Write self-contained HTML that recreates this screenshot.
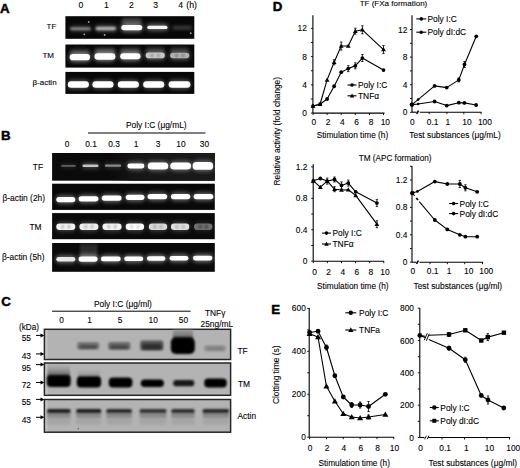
<!DOCTYPE html>
<html><head><meta charset="utf-8"><style>
html,body{margin:0;padding:0;background:#fff;}
svg{display:block;}
text{font-family:"Liberation Sans", sans-serif;fill:#000;stroke:#000;stroke-width:0.1px;}
</style></head><body>
<svg width="520" height="468" viewBox="0 0 520 468">
<defs>
<filter id="b07" x="-20%" y="-100%" width="140%" height="300%"><feGaussianBlur stdDeviation="0.7"/></filter>
<filter id="b1" x="-20%" y="-100%" width="140%" height="300%"><feGaussianBlur stdDeviation="1"/></filter>
<filter id="b12" x="-30%" y="-100%" width="160%" height="300%"><feGaussianBlur stdDeviation="1.2"/></filter>
<filter id="b15" x="-30%" y="-100%" width="160%" height="300%"><feGaussianBlur stdDeviation="1.5"/></filter>
<filter id="b2" x="-30%" y="-100%" width="160%" height="300%"><feGaussianBlur stdDeviation="2"/></filter>
<linearGradient id="hz1" x1="0" y1="0" x2="0" y2="1"><stop offset="0" stop-color="#a8a8a8" stop-opacity="0.3"/><stop offset="0.6" stop-color="#7a7a7a"/><stop offset="1" stop-color="#303030"/></linearGradient>
<linearGradient id="hz2" x1="0" y1="0" x2="0" y2="1"><stop offset="0" stop-color="#a8a8a8" stop-opacity="0.2"/><stop offset="0.7" stop-color="#8a8a8a"/><stop offset="1" stop-color="#404040"/></linearGradient>
<linearGradient id="hz3" x1="0" y1="0" x2="0" y2="1"><stop offset="0" stop-color="#a8a8a8" stop-opacity="0.1"/><stop offset="0.7" stop-color="#969696"/><stop offset="1" stop-color="#505050"/></linearGradient>
<linearGradient id="gtf" x1="0" y1="0" x2="1" y2="0"><stop offset="0" stop-color="#161616" stop-opacity="0"/><stop offset="0.25" stop-color="#161616"/><stop offset="1" stop-color="#1a1a1a"/></linearGradient>
<linearGradient id="gsm" x1="0" y1="0" x2="0" y2="1"><stop offset="0" stop-color="#222"/><stop offset="1" stop-color="#3a3a3a"/></linearGradient>
<linearGradient id="hz4" x1="0" y1="0" x2="0" y2="1"><stop offset="0" stop-color="#a0a0a0"/><stop offset="0.6" stop-color="#7a7a7a"/><stop offset="1" stop-color="#202020"/></linearGradient>
<clipPath id="cTF"><rect x="44.7" y="329.5" width="185.2" height="29.3"/></clipPath>
<clipPath id="cTM"><rect x="44.7" y="363.5" width="185.2" height="31.2"/></clipPath>
<clipPath id="cAC"><rect x="44.7" y="400.1" width="185.2" height="31.6"/></clipPath>
</defs>
<rect width="520" height="468" fill="#fff"/>
<text x="0.00" y="13.10" font-size="13.3" text-anchor="start" font-weight="bold" style="stroke-width:0.45px">A</text>
<text x="81.00" y="8.30" font-size="8.6" text-anchor="middle" font-weight="normal" >0</text>
<text x="106.30" y="8.30" font-size="8.6" text-anchor="middle" font-weight="normal" >1</text>
<text x="131.40" y="8.30" font-size="8.6" text-anchor="middle" font-weight="normal" >2</text>
<text x="155.60" y="8.30" font-size="8.6" text-anchor="middle" font-weight="normal" >3</text>
<text x="180.60" y="8.30" font-size="8.6" text-anchor="middle" font-weight="normal" >4</text>
<text x="186.30" y="8.10" font-size="8.8" text-anchor="start" font-weight="normal" >(h)</text>
<text x="56.30" y="29.18" font-size="8" text-anchor="end" font-weight="normal" >TF</text>
<text x="54.00" y="58.48" font-size="8" text-anchor="end" font-weight="normal" >TM</text>
<text x="56.60" y="85.08" font-size="8" text-anchor="end" font-weight="normal" >β-actin</text>
<clipPath id="g1"><rect x="65.40" y="16.20" width="128.90" height="22.60"/></clipPath>
<rect x="65.40" y="16.20" width="128.90" height="22.60" fill="#070707" />
<g clip-path="url(#g1)">
<rect x="121.50" y="17.50" width="20.50" height="7.00" rx="3.50" fill="#3a3a3a" opacity="1.0" filter="url(#b15)"/>
<rect x="69.80" y="26.10" width="21.30" height="5.40" rx="2.70" fill="#8e8e8e" opacity="0.4" filter="url(#b2)"/>
<rect x="70.30" y="27.60" width="20.30" height="2.40" rx="1.20" fill="#8e8e8e" opacity="1.0" filter="url(#b1)"/>
<rect x="95.20" y="25.60" width="21.30" height="5.80" rx="2.90" fill="#b8b8b8" opacity="0.45" filter="url(#b2)"/>
<rect x="95.70" y="27.10" width="20.30" height="2.80" rx="1.40" fill="#b8b8b8" opacity="1.0" filter="url(#b1)"/>
<rect x="120.80" y="23.40" width="22.00" height="8.40" rx="4.20" fill="#ffffff" opacity="0.5" filter="url(#b2)"/>
<rect x="121.30" y="24.90" width="21.00" height="5.40" rx="2.70" fill="#ffffff" opacity="1.0" filter="url(#b07)"/>
<rect x="146.70" y="24.20" width="21.30" height="6.40" rx="3.20" fill="#f4f4f4" opacity="0.45" filter="url(#b2)"/>
<rect x="147.20" y="25.70" width="20.30" height="3.40" rx="1.70" fill="#f4f4f4" opacity="1.0" filter="url(#b07)"/>
<rect x="172.00" y="25.80" width="20.00" height="4.00" rx="2.00" fill="#383838" opacity="1.0" filter="url(#b15)"/>
<circle cx="88.70" cy="21.90" r="0.9" fill="#aaa"/>
<circle cx="84.30" cy="34.30" r="0.9" fill="#aaa"/>
<circle cx="104.60" cy="35.00" r="0.9" fill="#aaa"/>
<circle cx="190.70" cy="33.20" r="0.9" fill="#aaa"/>
</g>
<clipPath id="g2"><rect x="65.40" y="44.50" width="128.90" height="23.10"/></clipPath>
<rect x="65.40" y="44.50" width="128.90" height="23.10" fill="#080808" />
<g clip-path="url(#g2)">
<rect x="69.70" y="48.45" width="20.30" height="6.50" rx="3.25" fill="#2a2a2a" opacity="1.0" filter="url(#b15)"/>
<rect x="69.20" y="52.60" width="21.30" height="9.20" rx="4.60" fill="#fff" opacity="0.5" filter="url(#b2)"/>
<rect x="69.70" y="54.10" width="20.30" height="6.20" rx="3.10" fill="#fff" opacity="1.0" filter="url(#b07)"/>
<rect x="94.50" y="47.75" width="20.90" height="6.50" rx="3.25" fill="#3a3a3a" opacity="1.0" filter="url(#b15)"/>
<rect x="94.00" y="51.80" width="21.90" height="9.40" rx="4.70" fill="#fff" opacity="0.5" filter="url(#b2)"/>
<rect x="94.50" y="53.30" width="20.90" height="6.40" rx="3.20" fill="#fff" opacity="1.0" filter="url(#b07)"/>
<rect x="120.20" y="47.45" width="20.30" height="6.50" rx="3.25" fill="#333333" opacity="1.0" filter="url(#b15)"/>
<rect x="119.70" y="51.70" width="21.30" height="9.00" rx="4.50" fill="#fff" opacity="0.5" filter="url(#b2)"/>
<rect x="120.20" y="53.20" width="20.30" height="6.00" rx="3.00" fill="#fff" opacity="1.0" filter="url(#b07)"/>
<rect x="145.70" y="46.65" width="19.10" height="6.50" rx="3.25" fill="#282828" opacity="1.0" filter="url(#b15)"/>
<rect x="145.20" y="51.10" width="20.10" height="8.60" rx="4.30" fill="#c8c8c8" opacity="0.5" filter="url(#b2)"/>
<rect x="145.70" y="52.60" width="19.10" height="5.60" rx="2.80" fill="#c8c8c8" opacity="1.0" filter="url(#b07)"/>
<ellipse cx="152.07" cy="55.40" rx="1.72" ry="1.68" fill="#000" opacity="0.25" filter="url(#b1)"/>
<ellipse cx="158.43" cy="55.40" rx="1.72" ry="1.68" fill="#000" opacity="0.25" filter="url(#b1)"/>
<rect x="170.20" y="46.75" width="19.10" height="6.50" rx="3.25" fill="#262626" opacity="1.0" filter="url(#b15)"/>
<rect x="169.70" y="51.30" width="20.10" height="8.40" rx="4.20" fill="#b0b0b0" opacity="0.5" filter="url(#b2)"/>
<rect x="170.20" y="52.80" width="19.10" height="5.40" rx="2.70" fill="#b0b0b0" opacity="1.0" filter="url(#b07)"/>
<ellipse cx="176.57" cy="55.50" rx="1.72" ry="1.62" fill="#000" opacity="0.3" filter="url(#b1)"/>
<ellipse cx="182.93" cy="55.50" rx="1.72" ry="1.62" fill="#000" opacity="0.3" filter="url(#b1)"/>
</g>
<clipPath id="g3"><rect x="65.40" y="71.90" width="128.90" height="22.00"/></clipPath>
<rect x="65.40" y="71.90" width="128.90" height="22.00" fill="#070707" />
<g clip-path="url(#g3)">
<rect x="67.30" y="79.70" width="22.10" height="9.60" rx="4.80" fill="#fff" opacity="0.3" filter="url(#b2)"/>
<rect x="67.80" y="81.20" width="21.10" height="6.60" rx="3.30" fill="#fff" opacity="1.0" filter="url(#b07)"/>
<rect x="91.90" y="79.70" width="22.10" height="9.60" rx="4.80" fill="#fff" opacity="0.3" filter="url(#b2)"/>
<rect x="92.40" y="81.20" width="21.10" height="6.60" rx="3.30" fill="#fff" opacity="1.0" filter="url(#b07)"/>
<rect x="117.30" y="79.70" width="22.10" height="9.60" rx="4.80" fill="#fff" opacity="0.3" filter="url(#b2)"/>
<rect x="117.80" y="81.20" width="21.10" height="6.60" rx="3.30" fill="#fff" opacity="1.0" filter="url(#b07)"/>
<rect x="142.70" y="79.70" width="22.10" height="9.60" rx="4.80" fill="#fff" opacity="0.3" filter="url(#b2)"/>
<rect x="143.20" y="81.20" width="21.10" height="6.60" rx="3.30" fill="#fff" opacity="1.0" filter="url(#b07)"/>
<rect x="168.10" y="79.70" width="22.80" height="9.60" rx="4.80" fill="#fff" opacity="0.3" filter="url(#b2)"/>
<rect x="168.60" y="81.20" width="21.80" height="6.60" rx="3.30" fill="#fff" opacity="1.0" filter="url(#b07)"/>
</g>
<text x="1.00" y="139.70" font-size="13.3" text-anchor="start" font-weight="bold" style="stroke-width:0.45px">B</text>
<text x="156.30" y="128.32" font-size="8.4" text-anchor="middle" font-weight="normal" >Poly I:C (μg/mL)</text>
<line x1="88" y1="133" x2="205.5" y2="133" stroke="#000" stroke-width="1"/>
<text x="67.00" y="146.77" font-size="8.4" text-anchor="middle" font-weight="normal" >0</text>
<text x="91.00" y="146.77" font-size="8.4" text-anchor="middle" font-weight="normal" >0.1</text>
<text x="114.00" y="146.77" font-size="8.4" text-anchor="middle" font-weight="normal" >0.3</text>
<text x="136.00" y="146.77" font-size="8.4" text-anchor="middle" font-weight="normal" >1</text>
<text x="158.00" y="146.77" font-size="8.4" text-anchor="middle" font-weight="normal" >3</text>
<text x="181.00" y="146.77" font-size="8.4" text-anchor="middle" font-weight="normal" >10</text>
<text x="204.50" y="146.77" font-size="8.4" text-anchor="middle" font-weight="normal" >30</text>
<text x="43.00" y="169.52" font-size="8.4" text-anchor="end" font-weight="normal" >TF</text>
<text x="45.00" y="201.02" font-size="8.4" text-anchor="end" font-weight="normal" >β-actin (2h)</text>
<text x="41.50" y="230.02" font-size="8.4" text-anchor="end" font-weight="normal" >TM</text>
<text x="44.50" y="260.02" font-size="8.4" text-anchor="end" font-weight="normal" >β-actin (5h)</text>
<clipPath id="g4"><rect x="52.10" y="153.00" width="162.70" height="27.70"/></clipPath>
<rect x="52.10" y="153.00" width="162.70" height="27.70" fill="#0a0a0a" />
<g clip-path="url(#g4)">
<rect x="110" y="153" width="105" height="28" fill="url(#gtf)"/>
<rect x="60.80" y="163.40" width="15.50" height="4.80" rx="2.40" fill="#606060" opacity="0.3" filter="url(#b2)"/>
<rect x="61.30" y="164.90" width="14.50" height="1.80" rx="0.90" fill="#606060" opacity="1.0" filter="url(#b07)"/>
<rect x="82.00" y="162.90" width="17.00" height="5.60" rx="2.80" fill="#c4c4c4" opacity="0.35" filter="url(#b2)"/>
<rect x="82.50" y="164.40" width="16.00" height="2.60" rx="1.30" fill="#c4c4c4" opacity="1.0" filter="url(#b07)"/>
<rect x="104.40" y="163.10" width="17.20" height="5.20" rx="2.60" fill="#8a8a8a" opacity="0.3" filter="url(#b2)"/>
<rect x="104.90" y="164.60" width="16.20" height="2.20" rx="1.10" fill="#8a8a8a" opacity="1.0" filter="url(#b07)"/>
<rect x="126.90" y="162.10" width="18.00" height="7.80" rx="3.90" fill="#fff" opacity="0.35" filter="url(#b2)"/>
<rect x="127.40" y="163.60" width="17.00" height="4.80" rx="2.40" fill="#fff" opacity="1.0" filter="url(#b07)"/>
<rect x="147.20" y="161.00" width="21.60" height="10.00" rx="5.00" fill="#fff" opacity="0.35" filter="url(#b2)"/>
<rect x="147.70" y="162.50" width="20.60" height="7.00" rx="3.50" fill="#fff" opacity="1.0" filter="url(#b07)"/>
<rect x="169.70" y="161.00" width="21.80" height="10.00" rx="5.00" fill="#fff" opacity="0.35" filter="url(#b2)"/>
<rect x="170.20" y="162.50" width="20.80" height="7.00" rx="3.50" fill="#fff" opacity="1.0" filter="url(#b07)"/>
<rect x="192.10" y="160.50" width="21.60" height="10.80" rx="5.40" fill="#fff" opacity="0.35" filter="url(#b2)"/>
<rect x="192.60" y="162.00" width="20.60" height="7.80" rx="3.90" fill="#fff" opacity="1.0" filter="url(#b07)"/>
</g>
<clipPath id="g5"><rect x="52.10" y="183.70" width="162.70" height="26.20"/></clipPath>
<rect x="52.10" y="183.70" width="162.70" height="26.20" fill="#080808" />
<g clip-path="url(#g5)">
<rect x="55.80" y="195.40" width="20.00" height="8.40" rx="4.20" fill="#fff" opacity="0.4" filter="url(#b2)"/>
<rect x="56.30" y="196.90" width="19.00" height="5.40" rx="2.70" fill="#fff" opacity="1.0" filter="url(#b07)"/>
<rect x="78.10" y="194.65" width="20.80" height="8.40" rx="4.20" fill="#fff" opacity="0.4" filter="url(#b2)"/>
<rect x="78.60" y="196.15" width="19.80" height="5.40" rx="2.70" fill="#fff" opacity="1.0" filter="url(#b07)"/>
<rect x="101.20" y="193.90" width="20.90" height="8.40" rx="4.20" fill="#fff" opacity="0.4" filter="url(#b2)"/>
<rect x="101.70" y="195.40" width="19.90" height="5.40" rx="2.70" fill="#fff" opacity="1.0" filter="url(#b07)"/>
<rect x="125.20" y="193.15" width="19.80" height="8.40" rx="4.20" fill="#fff" opacity="0.4" filter="url(#b2)"/>
<rect x="125.70" y="194.65" width="18.80" height="5.40" rx="2.70" fill="#fff" opacity="1.0" filter="url(#b07)"/>
<rect x="147.00" y="192.40" width="20.70" height="8.40" rx="4.20" fill="#fff" opacity="0.4" filter="url(#b2)"/>
<rect x="147.50" y="193.90" width="19.70" height="5.40" rx="2.70" fill="#fff" opacity="1.0" filter="url(#b07)"/>
<rect x="170.40" y="192.40" width="20.40" height="8.40" rx="4.20" fill="#fff" opacity="0.4" filter="url(#b2)"/>
<rect x="170.90" y="193.90" width="19.40" height="5.40" rx="2.70" fill="#fff" opacity="1.0" filter="url(#b07)"/>
<rect x="193.10" y="192.40" width="20.70" height="8.40" rx="4.20" fill="#fff" opacity="0.4" filter="url(#b2)"/>
<rect x="193.60" y="193.90" width="19.70" height="5.40" rx="2.70" fill="#fff" opacity="1.0" filter="url(#b07)"/>
</g>
<clipPath id="g6"><rect x="52.10" y="213.10" width="162.70" height="26.10"/></clipPath>
<rect x="52.10" y="213.10" width="162.70" height="26.10" fill="#0a0a0a" />
<g clip-path="url(#g6)">
<rect x="55.80" y="222.00" width="20.00" height="9.60" rx="4.80" fill="#f4f4f4" opacity="0.25" filter="url(#b2)"/>
<rect x="56.30" y="223.50" width="19.00" height="6.60" rx="3.30" fill="#f4f4f4" opacity="1.0" filter="url(#b07)"/>
<ellipse cx="62.63" cy="226.80" rx="1.71" ry="1.98" fill="#000" opacity="0.22" filter="url(#b1)"/>
<ellipse cx="68.97" cy="226.80" rx="1.71" ry="1.98" fill="#000" opacity="0.22" filter="url(#b1)"/>
<rect x="78.90" y="222.00" width="20.00" height="9.60" rx="4.80" fill="#f0f0f0" opacity="0.25" filter="url(#b2)"/>
<rect x="79.40" y="223.50" width="19.00" height="6.60" rx="3.30" fill="#f0f0f0" opacity="1.0" filter="url(#b07)"/>
<ellipse cx="85.73" cy="226.80" rx="1.71" ry="1.98" fill="#000" opacity="0.22" filter="url(#b1)"/>
<ellipse cx="92.07" cy="226.80" rx="1.71" ry="1.98" fill="#000" opacity="0.22" filter="url(#b1)"/>
<rect x="102.00" y="222.00" width="20.10" height="9.60" rx="4.80" fill="#f4f4f4" opacity="0.25" filter="url(#b2)"/>
<rect x="102.50" y="223.50" width="19.10" height="6.60" rx="3.30" fill="#f4f4f4" opacity="1.0" filter="url(#b07)"/>
<ellipse cx="108.87" cy="226.80" rx="1.72" ry="1.98" fill="#000" opacity="0.22" filter="url(#b1)"/>
<ellipse cx="115.23" cy="226.80" rx="1.72" ry="1.98" fill="#000" opacity="0.22" filter="url(#b1)"/>
<rect x="125.20" y="222.00" width="19.40" height="9.60" rx="4.80" fill="#fff" opacity="0.25" filter="url(#b2)"/>
<rect x="125.70" y="223.50" width="18.40" height="6.60" rx="3.30" fill="#fff" opacity="1.0" filter="url(#b07)"/>
<ellipse cx="131.83" cy="226.80" rx="1.66" ry="1.98" fill="#000" opacity="0.18" filter="url(#b1)"/>
<ellipse cx="137.97" cy="226.80" rx="1.66" ry="1.98" fill="#000" opacity="0.18" filter="url(#b1)"/>
<rect x="148.30" y="222.00" width="19.40" height="9.60" rx="4.80" fill="#d8d8d8" opacity="0.25" filter="url(#b2)"/>
<rect x="148.80" y="223.50" width="18.40" height="6.60" rx="3.30" fill="#d8d8d8" opacity="1.0" filter="url(#b07)"/>
<ellipse cx="154.93" cy="226.80" rx="1.66" ry="1.98" fill="#000" opacity="0.2" filter="url(#b1)"/>
<ellipse cx="161.07" cy="226.80" rx="1.66" ry="1.98" fill="#000" opacity="0.2" filter="url(#b1)"/>
<rect x="170.40" y="222.00" width="19.40" height="9.60" rx="4.80" fill="#e0e0e0" opacity="0.25" filter="url(#b2)"/>
<rect x="170.90" y="223.50" width="18.40" height="6.60" rx="3.30" fill="#e0e0e0" opacity="1.0" filter="url(#b07)"/>
<ellipse cx="177.03" cy="226.80" rx="1.66" ry="1.98" fill="#000" opacity="0.2" filter="url(#b1)"/>
<ellipse cx="183.17" cy="226.80" rx="1.66" ry="1.98" fill="#000" opacity="0.2" filter="url(#b1)"/>
<rect x="193.50" y="222.00" width="19.40" height="9.60" rx="4.80" fill="#707070" opacity="0.25" filter="url(#b2)"/>
<rect x="194.00" y="223.50" width="18.40" height="6.60" rx="3.30" fill="#707070" opacity="1.0" filter="url(#b07)"/>
<ellipse cx="200.13" cy="226.80" rx="1.66" ry="1.98" fill="#000" opacity="0.4" filter="url(#b1)"/>
<ellipse cx="206.27" cy="226.80" rx="1.66" ry="1.98" fill="#000" opacity="0.4" filter="url(#b1)"/>
</g>
<clipPath id="g7"><rect x="52.10" y="243.00" width="162.70" height="28.80"/></clipPath>
<rect x="52.10" y="243.00" width="162.70" height="28.80" fill="#0a0a0a" />
<g clip-path="url(#g7)">
<rect x="80" y="243" width="17.5" height="15" fill="url(#gsm)" filter="url(#b1)"/>
<rect x="55.80" y="255.50" width="20.00" height="7.60" rx="3.80" fill="#e8e8e8" opacity="0.45" filter="url(#b2)"/>
<rect x="56.30" y="257.00" width="19.00" height="4.60" rx="2.30" fill="#e8e8e8" opacity="1.0" filter="url(#b07)"/>
<rect x="78.10" y="254.90" width="20.00" height="8.40" rx="4.20" fill="#fff" opacity="0.45" filter="url(#b2)"/>
<rect x="78.60" y="256.40" width="19.00" height="5.40" rx="2.70" fill="#fff" opacity="1.0" filter="url(#b07)"/>
<rect x="100.40" y="255.10" width="20.80" height="7.60" rx="3.80" fill="#fff" opacity="0.45" filter="url(#b2)"/>
<rect x="100.90" y="256.60" width="19.80" height="4.60" rx="2.30" fill="#fff" opacity="1.0" filter="url(#b07)"/>
<rect x="123.70" y="254.90" width="20.00" height="7.60" rx="3.80" fill="#fff" opacity="0.45" filter="url(#b2)"/>
<rect x="124.20" y="256.40" width="19.00" height="4.60" rx="2.30" fill="#fff" opacity="1.0" filter="url(#b07)"/>
<rect x="146.40" y="254.70" width="19.50" height="7.60" rx="3.80" fill="#fff" opacity="0.45" filter="url(#b2)"/>
<rect x="146.90" y="256.20" width="18.50" height="4.60" rx="2.30" fill="#fff" opacity="1.0" filter="url(#b07)"/>
<rect x="169.10" y="254.50" width="19.80" height="7.60" rx="3.80" fill="#fff" opacity="0.45" filter="url(#b2)"/>
<rect x="169.60" y="256.00" width="18.80" height="4.60" rx="2.30" fill="#fff" opacity="1.0" filter="url(#b07)"/>
<rect x="192.50" y="254.30" width="20.40" height="7.60" rx="3.80" fill="#fff" opacity="0.45" filter="url(#b2)"/>
<rect x="193.00" y="255.80" width="19.40" height="4.60" rx="2.30" fill="#fff" opacity="1.0" filter="url(#b07)"/>
</g>
<text x="1.30" y="305.90" font-size="13.3" text-anchor="start" font-weight="bold" style="stroke-width:0.45px">C</text>
<text x="94.00" y="306.52" font-size="8.4" text-anchor="start" font-weight="normal" >Poly I:C (μg/ml)</text>
<line x1="52" y1="311.2" x2="190.6" y2="311.2" stroke="#000" stroke-width="1"/>
<text x="61.50" y="323.02" font-size="8.4" text-anchor="middle" font-weight="normal" >0</text>
<text x="89.50" y="323.02" font-size="8.4" text-anchor="middle" font-weight="normal" >1</text>
<text x="120.00" y="323.02" font-size="8.4" text-anchor="middle" font-weight="normal" >5</text>
<text x="153.20" y="323.02" font-size="8.4" text-anchor="middle" font-weight="normal" >10</text>
<text x="183.50" y="323.02" font-size="8.4" text-anchor="middle" font-weight="normal" >50</text>
<text x="215.20" y="315.52" font-size="8.4" text-anchor="middle" font-weight="normal" >TNFγ</text>
<text x="216.80" y="327.32" font-size="8.4" text-anchor="middle" font-weight="normal" >25ng/mL</text>
<text x="29.00" y="329.55" font-size="8.2" text-anchor="middle" font-weight="normal" >(kDa)</text>
<text x="31.00" y="341.32" font-size="8.4" text-anchor="end" font-weight="normal" >55</text>
<text x="31.00" y="359.02" font-size="8.4" text-anchor="end" font-weight="normal" >43</text>
<text x="31.00" y="370.92" font-size="8.4" text-anchor="end" font-weight="normal" >95</text>
<text x="31.00" y="388.22" font-size="8.4" text-anchor="end" font-weight="normal" >72</text>
<text x="31.00" y="405.32" font-size="8.4" text-anchor="end" font-weight="normal" >55</text>
<text x="31.00" y="422.52" font-size="8.4" text-anchor="end" font-weight="normal" >43</text>
<line x1="36" y1="335.4" x2="41.5" y2="335.4" stroke="#000" stroke-width="1"/>
<path d="M40.5 333.4 L44.5 335.4 L40.5 337.4 Z" fill="#000"/>
<line x1="36" y1="353.9" x2="41.5" y2="353.9" stroke="#000" stroke-width="1"/>
<path d="M40.5 351.9 L44.5 353.9 L40.5 355.9 Z" fill="#000"/>
<line x1="36" y1="364.6" x2="41.5" y2="364.6" stroke="#000" stroke-width="1"/>
<path d="M40.5 362.6 L44.5 364.6 L40.5 366.6 Z" fill="#000"/>
<line x1="36" y1="382.5" x2="41.5" y2="382.5" stroke="#000" stroke-width="1"/>
<path d="M40.5 380.5 L44.5 382.5 L40.5 384.5 Z" fill="#000"/>
<line x1="36" y1="399.4" x2="41.5" y2="399.4" stroke="#000" stroke-width="1"/>
<path d="M40.5 397.4 L44.5 399.4 L40.5 401.4 Z" fill="#000"/>
<line x1="36" y1="417.3" x2="41.5" y2="417.3" stroke="#000" stroke-width="1"/>
<path d="M40.5 415.3 L44.5 417.3 L40.5 419.3 Z" fill="#000"/>
<text x="237.50" y="353.52" font-size="8.4" text-anchor="start" font-weight="normal" >TF</text>
<text x="238.00" y="387.02" font-size="8.4" text-anchor="start" font-weight="normal" >TM</text>
<text x="237.50" y="418.52" font-size="8.4" text-anchor="start" font-weight="normal" >Actin</text>
<rect x="44.40" y="329.30" width="186.20" height="30.20" fill="#b3b3b3" stroke="#262626" stroke-width="1.5"/>
<rect x="45.60" y="330.30" width="1.80" height="28.20" fill="#c4c4c4" filter="url(#b07)"/>
<rect x="44.40" y="363.00" width="186.20" height="32.30" fill="#b3b3b3" stroke="#262626" stroke-width="1.5"/>
<rect x="45.60" y="364.00" width="1.80" height="30.30" fill="#c4c4c4" filter="url(#b07)"/>
<rect x="44.40" y="399.50" width="186.20" height="32.70" fill="#b3b3b3" stroke="#262626" stroke-width="1.5"/>
<rect x="45.60" y="400.50" width="1.80" height="30.70" fill="#c4c4c4" filter="url(#b07)"/>
<g clip-path="url(#cTF)">
<rect x="173" y="329" width="20" height="11" fill="url(#hz4)" filter="url(#b1)"/>
<rect x="77.20" y="342.00" width="22.00" height="7.60" rx="2.50" fill="#747474" opacity="1.0" filter="url(#b12)"/>
<rect x="108.20" y="342.00" width="22.20" height="7.80" rx="2.50" fill="#6a6a6a" opacity="1.0" filter="url(#b12)"/>
<rect x="140.20" y="340.40" width="23.20" height="10.00" rx="2.50" fill="#555555" opacity="1.0" filter="url(#b12)"/>
<rect x="204.00" y="345.20" width="22.00" height="6.20" rx="2.50" fill="#929292" opacity="1.0" filter="url(#b12)"/>
<rect x="79.50" y="345.10" width="17.50" height="3.40" rx="1.50" fill="#4c4c4c" opacity="1.0" filter="url(#b1)"/>
<rect x="110.50" y="345.20" width="17.50" height="3.60" rx="1.50" fill="#444444" opacity="1.0" filter="url(#b1)"/>
<rect x="142.50" y="344.30" width="19.00" height="5.00" rx="1.50" fill="#2a2a2a" opacity="1.0" filter="url(#b1)"/>
<rect x="206.50" y="347.30" width="17.00" height="2.60" rx="1.50" fill="#7e7e7e" opacity="1.0" filter="url(#b1)"/>
<rect x="170.80" y="337.60" width="24.00" height="16.40" rx="5.00" fill="#050505" opacity="1.0" filter="url(#b1)"/>
</g>
<g clip-path="url(#cTM)">
<rect x="47.5" y="364.5" width="22.5" height="14" fill="url(#hz1)" filter="url(#b1)"/>
<rect x="78" y="369.5" width="22" height="10" fill="url(#hz2)" filter="url(#b1)"/>
<rect x="46.80" y="375.30" width="23.90" height="11.80" rx="4.00" fill="#000" opacity="1.0" filter="url(#b1)"/>
<rect x="76.80" y="376.60" width="24.30" height="10.80" rx="4.00" fill="#000" opacity="1.0" filter="url(#b1)"/>
<rect x="108.80" y="377.60" width="23.60" height="9.80" rx="4.00" fill="#000" opacity="1.0" filter="url(#b1)"/>
<rect x="140.70" y="379.50" width="23.20" height="7.60" rx="3.80" fill="#000" opacity="1.0" filter="url(#b1)"/>
<rect x="173.20" y="380.10" width="21.10" height="6.20" rx="3.10" fill="#141414" opacity="1.0" filter="url(#b1)"/>
<rect x="204.20" y="378.40" width="22.60" height="9.20" rx="4.00" fill="#000" opacity="1.0" filter="url(#b1)"/>
</g>
<g clip-path="url(#cAC)">
<rect x="47.10" y="418.25" width="23.40" height="6.50" rx="1.00" fill="#a4a4a4" opacity="1.0" filter="url(#b15)"/>
<rect x="47.10" y="412.45" width="23.40" height="5.50" rx="1.00" fill="#8a8a8a" opacity="1.0" filter="url(#b12)"/>
<rect x="47.10" y="409.10" width="23.40" height="3.80" rx="1.50" fill="#1e1e1e" opacity="1.0" filter="url(#b1)"/>
<rect x="76.30" y="418.25" width="24.90" height="6.50" rx="1.00" fill="#a4a4a4" opacity="1.0" filter="url(#b15)"/>
<rect x="76.30" y="412.45" width="24.90" height="5.50" rx="1.00" fill="#8a8a8a" opacity="1.0" filter="url(#b12)"/>
<rect x="76.30" y="409.10" width="24.90" height="3.80" rx="1.50" fill="#1e1e1e" opacity="1.0" filter="url(#b1)"/>
<rect x="106.30" y="418.25" width="25.60" height="6.50" rx="1.00" fill="#a4a4a4" opacity="1.0" filter="url(#b15)"/>
<rect x="106.30" y="412.45" width="25.60" height="5.50" rx="1.00" fill="#8a8a8a" opacity="1.0" filter="url(#b12)"/>
<rect x="106.30" y="409.10" width="25.60" height="3.80" rx="1.50" fill="#2a2a2a" opacity="1.0" filter="url(#b1)"/>
<rect x="139.70" y="418.25" width="26.70" height="6.50" rx="1.00" fill="#a4a4a4" opacity="1.0" filter="url(#b15)"/>
<rect x="139.70" y="412.45" width="26.70" height="5.50" rx="1.00" fill="#8a8a8a" opacity="1.0" filter="url(#b12)"/>
<rect x="139.70" y="409.10" width="26.70" height="3.80" rx="1.50" fill="#303030" opacity="1.0" filter="url(#b1)"/>
<rect x="171.40" y="418.25" width="23.20" height="6.50" rx="1.00" fill="#a4a4a4" opacity="1.0" filter="url(#b15)"/>
<rect x="171.40" y="412.45" width="23.20" height="5.50" rx="1.00" fill="#8a8a8a" opacity="1.0" filter="url(#b12)"/>
<rect x="171.40" y="409.10" width="23.20" height="3.80" rx="1.50" fill="#2e2e2e" opacity="1.0" filter="url(#b1)"/>
<rect x="202.70" y="418.25" width="26.30" height="6.50" rx="1.00" fill="#a4a4a4" opacity="1.0" filter="url(#b15)"/>
<rect x="202.70" y="412.45" width="26.30" height="5.50" rx="1.00" fill="#8a8a8a" opacity="1.0" filter="url(#b12)"/>
<rect x="202.70" y="409.10" width="26.30" height="3.80" rx="1.50" fill="#262626" opacity="1.0" filter="url(#b1)"/>
<circle cx="78.30" cy="428.60" r="0.7" fill="#444"/>
</g>
<text x="272.80" y="11.40" font-size="13.3" text-anchor="start" font-weight="bold" style="stroke-width:0.45px">D</text>
<text x="393.50" y="6.08" font-size="8.0" text-anchor="middle" font-weight="normal" >TF (FXa formation)</text>
<line x1="312.90" y1="15.20" x2="312.90" y2="113.10" stroke="#000" stroke-width="1.1"/>
<line x1="312.90" y1="113.10" x2="384.50" y2="113.10" stroke="#000" stroke-width="1.1"/>
<line x1="310.90" y1="113.10" x2="312.90" y2="113.10" stroke="#000" stroke-width="0.9"/>
<line x1="310.90" y1="98.98" x2="312.90" y2="98.98" stroke="#000" stroke-width="0.9"/>
<line x1="310.90" y1="84.86" x2="312.90" y2="84.86" stroke="#000" stroke-width="0.9"/>
<line x1="310.90" y1="70.74" x2="312.90" y2="70.74" stroke="#000" stroke-width="0.9"/>
<line x1="310.90" y1="56.62" x2="312.90" y2="56.62" stroke="#000" stroke-width="0.9"/>
<line x1="310.90" y1="42.50" x2="312.90" y2="42.50" stroke="#000" stroke-width="0.9"/>
<line x1="310.90" y1="28.38" x2="312.90" y2="28.38" stroke="#000" stroke-width="0.9"/>
<text x="306.80" y="116.12" font-size="8.4" text-anchor="end" font-weight="normal" >0</text>
<text x="306.80" y="87.88" font-size="8.4" text-anchor="end" font-weight="normal" >4</text>
<text x="306.80" y="59.64" font-size="8.4" text-anchor="end" font-weight="normal" >8</text>
<text x="306.80" y="31.40" font-size="8.4" text-anchor="end" font-weight="normal" >12</text>
<line x1="313.00" y1="113.10" x2="313.00" y2="115.10" stroke="#000" stroke-width="0.9"/>
<text x="313.80" y="125.22" font-size="8.4" text-anchor="middle" font-weight="normal" >0</text>
<line x1="327.10" y1="113.10" x2="327.10" y2="115.10" stroke="#000" stroke-width="0.9"/>
<text x="328.10" y="125.22" font-size="8.4" text-anchor="middle" font-weight="normal" >2</text>
<line x1="341.20" y1="113.10" x2="341.20" y2="115.10" stroke="#000" stroke-width="0.9"/>
<text x="342.40" y="125.22" font-size="8.4" text-anchor="middle" font-weight="normal" >4</text>
<line x1="355.30" y1="113.10" x2="355.30" y2="115.10" stroke="#000" stroke-width="0.9"/>
<text x="356.70" y="125.22" font-size="8.4" text-anchor="middle" font-weight="normal" >6</text>
<line x1="369.40" y1="113.10" x2="369.40" y2="115.10" stroke="#000" stroke-width="0.9"/>
<text x="371.00" y="125.22" font-size="8.4" text-anchor="middle" font-weight="normal" >8</text>
<line x1="383.50" y1="113.10" x2="383.50" y2="115.10" stroke="#000" stroke-width="0.9"/>
<text x="385.30" y="125.22" font-size="8.4" text-anchor="middle" font-weight="normal" >10</text>
<text x="352.50" y="137.99" font-size="8.3" text-anchor="middle" font-weight="normal" >Stimulation time (h)</text>
<polyline points="313.00,106.04 320.05,104.27 327.10,79.92 334.15,62.27 341.20,46.03 348.25,46.03 355.30,31.20 362.35,29.79 383.50,49.56" fill="none" stroke="#000" stroke-width="1.1" stroke-linejoin="round"/>
<path d="M313.00 103.57 L315.38 107.84 L310.62 107.84 Z" fill="#000"/>
<path d="M320.05 101.80 L322.43 106.08 L317.68 106.08 Z" fill="#000"/>
<path d="M327.10 77.45 L329.48 81.72 L324.73 81.72 Z" fill="#000"/>
<line x1="334.15" y1="59.77" x2="334.15" y2="64.77" stroke="#000" stroke-width="0.8"/>
<line x1="332.95" y1="59.77" x2="335.35" y2="59.77" stroke="#000" stroke-width="0.8"/>
<line x1="332.95" y1="64.77" x2="335.35" y2="64.77" stroke="#000" stroke-width="0.8"/>
<path d="M334.15 59.80 L336.52 64.07 L331.77 64.07 Z" fill="#000"/>
<line x1="341.20" y1="42.03" x2="341.20" y2="50.03" stroke="#000" stroke-width="0.8"/>
<line x1="340.00" y1="42.03" x2="342.40" y2="42.03" stroke="#000" stroke-width="0.8"/>
<line x1="340.00" y1="50.03" x2="342.40" y2="50.03" stroke="#000" stroke-width="0.8"/>
<path d="M341.20 43.56 L343.57 47.84 L338.82 47.84 Z" fill="#000"/>
<path d="M348.25 43.56 L350.62 47.84 L345.88 47.84 Z" fill="#000"/>
<line x1="355.30" y1="28.20" x2="355.30" y2="34.20" stroke="#000" stroke-width="0.8"/>
<line x1="354.10" y1="28.20" x2="356.50" y2="28.20" stroke="#000" stroke-width="0.8"/>
<line x1="354.10" y1="34.20" x2="356.50" y2="34.20" stroke="#000" stroke-width="0.8"/>
<path d="M355.30 28.73 L357.68 33.01 L352.93 33.01 Z" fill="#000"/>
<line x1="362.35" y1="25.79" x2="362.35" y2="33.79" stroke="#000" stroke-width="0.8"/>
<line x1="361.15" y1="25.79" x2="363.55" y2="25.79" stroke="#000" stroke-width="0.8"/>
<line x1="361.15" y1="33.79" x2="363.55" y2="33.79" stroke="#000" stroke-width="0.8"/>
<path d="M362.35 27.32 L364.73 31.60 L359.98 31.60 Z" fill="#000"/>
<line x1="383.50" y1="45.56" x2="383.50" y2="53.56" stroke="#000" stroke-width="0.8"/>
<line x1="382.30" y1="45.56" x2="384.70" y2="45.56" stroke="#000" stroke-width="0.8"/>
<line x1="382.30" y1="53.56" x2="384.70" y2="53.56" stroke="#000" stroke-width="0.8"/>
<path d="M383.50 47.09 L385.88 51.36 L381.12 51.36 Z" fill="#000"/>
<polyline points="313.00,106.04 320.05,104.27 327.10,98.98 334.15,86.27 341.20,72.15 348.25,68.62 355.30,65.80 362.35,58.03 383.50,70.03" fill="none" stroke="#000" stroke-width="1.1" stroke-linejoin="round"/>
<circle cx="313.00" cy="106.04" r="1.9" fill="#000"/>
<circle cx="320.05" cy="104.27" r="1.9" fill="#000"/>
<circle cx="327.10" cy="98.98" r="1.9" fill="#000"/>
<circle cx="334.15" cy="86.27" r="1.9" fill="#000"/>
<circle cx="341.20" cy="72.15" r="1.9" fill="#000"/>
<line x1="348.25" y1="65.62" x2="348.25" y2="71.62" stroke="#000" stroke-width="0.8"/>
<line x1="347.05" y1="65.62" x2="349.45" y2="65.62" stroke="#000" stroke-width="0.8"/>
<line x1="347.05" y1="71.62" x2="349.45" y2="71.62" stroke="#000" stroke-width="0.8"/>
<circle cx="348.25" cy="68.62" r="1.9" fill="#000"/>
<line x1="355.30" y1="62.80" x2="355.30" y2="68.80" stroke="#000" stroke-width="0.8"/>
<line x1="354.10" y1="62.80" x2="356.50" y2="62.80" stroke="#000" stroke-width="0.8"/>
<line x1="354.10" y1="68.80" x2="356.50" y2="68.80" stroke="#000" stroke-width="0.8"/>
<circle cx="355.30" cy="65.80" r="1.9" fill="#000"/>
<line x1="362.35" y1="54.53" x2="362.35" y2="61.53" stroke="#000" stroke-width="0.8"/>
<line x1="361.15" y1="54.53" x2="363.55" y2="54.53" stroke="#000" stroke-width="0.8"/>
<line x1="361.15" y1="61.53" x2="363.55" y2="61.53" stroke="#000" stroke-width="0.8"/>
<circle cx="362.35" cy="58.03" r="1.9" fill="#000"/>
<circle cx="383.50" cy="70.03" r="1.9" fill="#000"/>
<line x1="347.50" y1="85.00" x2="356.50" y2="85.00" stroke="#000" stroke-width="1.1"/>
<circle cx="352.00" cy="85.00" r="1.8" fill="#000"/>
<text x="358.00" y="88.02" font-size="8.4" text-anchor="start" font-weight="normal" >Poly I:C</text>
<line x1="347.50" y1="95.80" x2="356.50" y2="95.80" stroke="#000" stroke-width="1.1"/>
<path d="M352.00 93.46 L354.25 97.51 L349.75 97.51 Z" fill="#000"/>
<text x="358.00" y="98.82" font-size="8.4" text-anchor="start" font-weight="normal" >TNFα</text>
<line x1="412.00" y1="15.30" x2="412.00" y2="112.20" stroke="#000" stroke-width="1.1"/>
<line x1="412.00" y1="112.20" x2="416.50" y2="112.20" stroke="#000" stroke-width="1.1"/>
<line x1="419.80" y1="112.20" x2="481.50" y2="112.20" stroke="#000" stroke-width="1.1"/>
<path d="M416.6 113.8 L418.6 110.60000000000001" stroke="#000" stroke-width="1.6"/>
<line x1="410.00" y1="112.30" x2="412.00" y2="112.30" stroke="#000" stroke-width="0.9"/>
<line x1="410.00" y1="98.50" x2="412.00" y2="98.50" stroke="#000" stroke-width="0.9"/>
<line x1="410.00" y1="84.70" x2="412.00" y2="84.70" stroke="#000" stroke-width="0.9"/>
<line x1="410.00" y1="70.90" x2="412.00" y2="70.90" stroke="#000" stroke-width="0.9"/>
<line x1="410.00" y1="57.10" x2="412.00" y2="57.10" stroke="#000" stroke-width="0.9"/>
<line x1="410.00" y1="43.30" x2="412.00" y2="43.30" stroke="#000" stroke-width="0.9"/>
<line x1="410.00" y1="29.50" x2="412.00" y2="29.50" stroke="#000" stroke-width="0.9"/>
<text x="407.30" y="115.32" font-size="8.4" text-anchor="end" font-weight="normal" >0</text>
<text x="407.30" y="87.72" font-size="8.4" text-anchor="end" font-weight="normal" >4</text>
<text x="407.30" y="60.12" font-size="8.4" text-anchor="end" font-weight="normal" >8</text>
<text x="407.30" y="32.52" font-size="8.4" text-anchor="end" font-weight="normal" >12</text>
<line x1="429.20" y1="112.20" x2="429.20" y2="114.20" stroke="#000" stroke-width="0.9"/>
<line x1="446.90" y1="112.20" x2="446.90" y2="114.20" stroke="#000" stroke-width="0.9"/>
<line x1="463.80" y1="112.20" x2="463.80" y2="114.20" stroke="#000" stroke-width="0.9"/>
<line x1="481.10" y1="112.20" x2="481.10" y2="114.20" stroke="#000" stroke-width="0.9"/>
<text x="412.30" y="124.62" font-size="8.4" text-anchor="middle" font-weight="normal" >0</text>
<text x="432.70" y="124.62" font-size="8.4" text-anchor="middle" font-weight="normal" >0.1</text>
<text x="447.90" y="124.62" font-size="8.4" text-anchor="middle" font-weight="normal" >1</text>
<text x="466.90" y="124.62" font-size="8.4" text-anchor="middle" font-weight="normal" >10</text>
<text x="484.90" y="124.62" font-size="8.4" text-anchor="middle" font-weight="normal" >100</text>
<text x="455.00" y="137.52" font-size="8.4" text-anchor="middle" font-weight="normal" >Test substances (μg/mL)</text>
<polyline points="411.90,104.60 418.10,99.60 434.60,85.90 446.70,87.60 458.80,79.90 464.50,64.50 476.25,36.30" fill="none" stroke="#000" stroke-width="1.1" stroke-linejoin="round"/>
<circle cx="411.90" cy="104.60" r="1.9" fill="#000"/>
<circle cx="434.60" cy="85.90" r="1.9" fill="#000"/>
<circle cx="446.70" cy="87.60" r="1.9" fill="#000"/>
<line x1="458.80" y1="77.90" x2="458.80" y2="81.90" stroke="#000" stroke-width="0.8"/>
<line x1="457.60" y1="77.90" x2="460.00" y2="77.90" stroke="#000" stroke-width="0.8"/>
<line x1="457.60" y1="81.90" x2="460.00" y2="81.90" stroke="#000" stroke-width="0.8"/>
<circle cx="458.80" cy="79.90" r="1.9" fill="#000"/>
<line x1="464.50" y1="61.50" x2="464.50" y2="67.50" stroke="#000" stroke-width="0.8"/>
<line x1="463.30" y1="61.50" x2="465.70" y2="61.50" stroke="#000" stroke-width="0.8"/>
<line x1="463.30" y1="67.50" x2="465.70" y2="67.50" stroke="#000" stroke-width="0.8"/>
<circle cx="464.50" cy="64.50" r="1.9" fill="#000"/>
<circle cx="476.25" cy="36.30" r="1.9" fill="#000"/>
<polyline points="411.90,104.60 418.10,104.00 434.60,101.50 446.70,105.60 458.80,102.70 464.40,102.90 476.10,105.00" fill="none" stroke="#000" stroke-width="1.1" stroke-linejoin="round"/>
<circle cx="411.90" cy="104.60" r="1.9" fill="#000"/>
<circle cx="434.60" cy="101.50" r="1.9" fill="#000"/>
<circle cx="446.70" cy="105.60" r="1.9" fill="#000"/>
<circle cx="458.80" cy="102.70" r="1.9" fill="#000"/>
<circle cx="464.40" cy="102.90" r="1.9" fill="#000"/>
<circle cx="476.10" cy="105.00" r="1.9" fill="#000"/>
<circle cx="418.10" cy="99.60" r="1.3" fill="#000"/>
<circle cx="418.10" cy="104.00" r="1.3" fill="#000"/>
<circle cx="411.90" cy="104.60" r="2.2" fill="#000"/>
<line x1="416.30" y1="18.90" x2="426.30" y2="18.90" stroke="#000" stroke-width="1.1"/>
<circle cx="421.30" cy="18.90" r="1.8" fill="#000"/>
<text x="427.50" y="21.92" font-size="8.4" text-anchor="start" font-weight="normal" >Poly I:C</text>
<line x1="416.30" y1="32.20" x2="426.30" y2="32.20" stroke="#000" stroke-width="1.1"/>
<circle cx="421.30" cy="32.20" r="1.8" fill="#000"/>
<text x="427.50" y="35.22" font-size="8.4" text-anchor="start" font-weight="normal" >Poly dI:dC</text>
<text transform="translate(279.5,131.2) rotate(-90)" font-size="8.3" text-anchor="middle">Relative activity (fold change)</text>
<text x="395.10" y="161.20" font-size="8.2" text-anchor="middle" font-weight="normal" >TM (APC formation)</text>
<line x1="313.20" y1="164.30" x2="313.20" y2="261.20" stroke="#000" stroke-width="1.1"/>
<line x1="313.20" y1="261.20" x2="384.00" y2="261.20" stroke="#000" stroke-width="1.1"/>
<line x1="311.20" y1="261.20" x2="313.20" y2="261.20" stroke="#000" stroke-width="0.9"/>
<line x1="311.20" y1="245.48" x2="313.20" y2="245.48" stroke="#000" stroke-width="0.9"/>
<line x1="311.20" y1="229.76" x2="313.20" y2="229.76" stroke="#000" stroke-width="0.9"/>
<line x1="311.20" y1="214.04" x2="313.20" y2="214.04" stroke="#000" stroke-width="0.9"/>
<line x1="311.20" y1="198.32" x2="313.20" y2="198.32" stroke="#000" stroke-width="0.9"/>
<line x1="311.20" y1="182.60" x2="313.20" y2="182.60" stroke="#000" stroke-width="0.9"/>
<line x1="311.20" y1="166.88" x2="313.20" y2="166.88" stroke="#000" stroke-width="0.9"/>
<text x="307.50" y="264.22" font-size="8.4" text-anchor="end" font-weight="normal" >0</text>
<text x="307.50" y="232.78" font-size="8.4" text-anchor="end" font-weight="normal" >0.4</text>
<text x="307.50" y="201.34" font-size="8.4" text-anchor="end" font-weight="normal" >0.8</text>
<text x="307.50" y="169.90" font-size="8.4" text-anchor="end" font-weight="normal" >1.2</text>
<line x1="313.30" y1="261.20" x2="313.30" y2="263.20" stroke="#000" stroke-width="0.9"/>
<text x="314.60" y="274.82" font-size="8.4" text-anchor="middle" font-weight="normal" >0</text>
<line x1="327.40" y1="261.20" x2="327.40" y2="263.20" stroke="#000" stroke-width="0.9"/>
<text x="328.68" y="274.82" font-size="8.4" text-anchor="middle" font-weight="normal" >2</text>
<line x1="341.50" y1="261.20" x2="341.50" y2="263.20" stroke="#000" stroke-width="0.9"/>
<text x="342.76" y="274.82" font-size="8.4" text-anchor="middle" font-weight="normal" >4</text>
<line x1="355.60" y1="261.20" x2="355.60" y2="263.20" stroke="#000" stroke-width="0.9"/>
<text x="356.84" y="274.82" font-size="8.4" text-anchor="middle" font-weight="normal" >6</text>
<line x1="369.70" y1="261.20" x2="369.70" y2="263.20" stroke="#000" stroke-width="0.9"/>
<text x="370.92" y="274.82" font-size="8.4" text-anchor="middle" font-weight="normal" >8</text>
<line x1="383.80" y1="261.20" x2="383.80" y2="263.20" stroke="#000" stroke-width="0.9"/>
<text x="385.00" y="274.82" font-size="8.4" text-anchor="middle" font-weight="normal" >10</text>
<text x="352.80" y="288.89" font-size="8.3" text-anchor="middle" font-weight="normal" >Stimulation time (h)</text>
<polyline points="313.40,180.80 320.30,178.50 327.20,181.10 334.50,179.50 341.50,185.40 348.30,183.10 355.70,191.80 376.90,203.10" fill="none" stroke="#000" stroke-width="1.1" stroke-linejoin="round"/>
<circle cx="313.40" cy="180.80" r="1.9" fill="#000"/>
<circle cx="320.30" cy="178.50" r="1.9" fill="#000"/>
<line x1="327.20" y1="178.10" x2="327.20" y2="184.10" stroke="#000" stroke-width="0.8"/>
<line x1="326.00" y1="178.10" x2="328.40" y2="178.10" stroke="#000" stroke-width="0.8"/>
<line x1="326.00" y1="184.10" x2="328.40" y2="184.10" stroke="#000" stroke-width="0.8"/>
<circle cx="327.20" cy="181.10" r="1.9" fill="#000"/>
<line x1="334.50" y1="177.00" x2="334.50" y2="182.00" stroke="#000" stroke-width="0.8"/>
<line x1="333.30" y1="177.00" x2="335.70" y2="177.00" stroke="#000" stroke-width="0.8"/>
<line x1="333.30" y1="182.00" x2="335.70" y2="182.00" stroke="#000" stroke-width="0.8"/>
<circle cx="334.50" cy="179.50" r="1.9" fill="#000"/>
<line x1="341.50" y1="181.90" x2="341.50" y2="188.90" stroke="#000" stroke-width="0.8"/>
<line x1="340.30" y1="181.90" x2="342.70" y2="181.90" stroke="#000" stroke-width="0.8"/>
<line x1="340.30" y1="188.90" x2="342.70" y2="188.90" stroke="#000" stroke-width="0.8"/>
<circle cx="341.50" cy="185.40" r="1.9" fill="#000"/>
<line x1="348.30" y1="180.10" x2="348.30" y2="186.10" stroke="#000" stroke-width="0.8"/>
<line x1="347.10" y1="180.10" x2="349.50" y2="180.10" stroke="#000" stroke-width="0.8"/>
<line x1="347.10" y1="186.10" x2="349.50" y2="186.10" stroke="#000" stroke-width="0.8"/>
<circle cx="348.30" cy="183.10" r="1.9" fill="#000"/>
<circle cx="355.70" cy="191.80" r="1.9" fill="#000"/>
<line x1="376.90" y1="199.60" x2="376.90" y2="206.60" stroke="#000" stroke-width="0.8"/>
<line x1="375.70" y1="199.60" x2="378.10" y2="199.60" stroke="#000" stroke-width="0.8"/>
<line x1="375.70" y1="206.60" x2="378.10" y2="206.60" stroke="#000" stroke-width="0.8"/>
<circle cx="376.90" cy="203.10" r="1.9" fill="#000"/>
<polyline points="313.40,180.80 320.30,187.20 327.20,181.10 334.50,189.20 341.50,190.00 348.30,189.70 355.70,195.40 376.90,224.20" fill="none" stroke="#000" stroke-width="1.1" stroke-linejoin="round"/>
<path d="M313.40 178.33 L315.77 182.61 L311.02 182.61 Z" fill="#000"/>
<path d="M320.30 184.73 L322.68 189.00 L317.93 189.00 Z" fill="#000"/>
<path d="M327.20 178.63 L329.57 182.91 L324.82 182.91 Z" fill="#000"/>
<line x1="334.50" y1="186.70" x2="334.50" y2="191.70" stroke="#000" stroke-width="0.8"/>
<line x1="333.30" y1="186.70" x2="335.70" y2="186.70" stroke="#000" stroke-width="0.8"/>
<line x1="333.30" y1="191.70" x2="335.70" y2="191.70" stroke="#000" stroke-width="0.8"/>
<path d="M334.50 186.73 L336.88 191.00 L332.12 191.00 Z" fill="#000"/>
<path d="M341.50 187.53 L343.88 191.81 L339.12 191.81 Z" fill="#000"/>
<path d="M348.30 187.23 L350.68 191.50 L345.93 191.50 Z" fill="#000"/>
<path d="M355.70 192.93 L358.07 197.21 L353.32 197.21 Z" fill="#000"/>
<line x1="376.90" y1="220.70" x2="376.90" y2="227.70" stroke="#000" stroke-width="0.8"/>
<line x1="375.70" y1="220.70" x2="378.10" y2="220.70" stroke="#000" stroke-width="0.8"/>
<line x1="375.70" y1="227.70" x2="378.10" y2="227.70" stroke="#000" stroke-width="0.8"/>
<path d="M376.90 221.73 L379.27 226.00 L374.52 226.00 Z" fill="#000"/>
<line x1="322.00" y1="233.10" x2="331.00" y2="233.10" stroke="#000" stroke-width="1.1"/>
<circle cx="326.50" cy="233.10" r="1.8" fill="#000"/>
<text x="332.50" y="236.12" font-size="8.4" text-anchor="start" font-weight="normal" >Poly I:C</text>
<line x1="322.00" y1="244.00" x2="331.00" y2="244.00" stroke="#000" stroke-width="1.1"/>
<path d="M326.50 241.66 L328.75 245.71 L324.25 245.71 Z" fill="#000"/>
<text x="332.50" y="247.02" font-size="8.4" text-anchor="start" font-weight="normal" >TNFα</text>
<line x1="412.00" y1="165.90" x2="412.00" y2="262.20" stroke="#000" stroke-width="1.1"/>
<line x1="412.00" y1="262.20" x2="416.20" y2="262.20" stroke="#000" stroke-width="1.1"/>
<line x1="419.50" y1="262.20" x2="483.20" y2="262.20" stroke="#000" stroke-width="1.1"/>
<path d="M416.4 263.8 L418.4 260.59999999999997" stroke="#000" stroke-width="1.6"/>
<line x1="410.00" y1="262.20" x2="412.00" y2="262.20" stroke="#000" stroke-width="0.9"/>
<line x1="410.00" y1="248.50" x2="412.00" y2="248.50" stroke="#000" stroke-width="0.9"/>
<line x1="410.00" y1="234.80" x2="412.00" y2="234.80" stroke="#000" stroke-width="0.9"/>
<line x1="410.00" y1="221.10" x2="412.00" y2="221.10" stroke="#000" stroke-width="0.9"/>
<line x1="410.00" y1="207.40" x2="412.00" y2="207.40" stroke="#000" stroke-width="0.9"/>
<line x1="410.00" y1="193.70" x2="412.00" y2="193.70" stroke="#000" stroke-width="0.9"/>
<line x1="410.00" y1="180.00" x2="412.00" y2="180.00" stroke="#000" stroke-width="0.9"/>
<line x1="410.00" y1="166.30" x2="412.00" y2="166.30" stroke="#000" stroke-width="0.9"/>
<text x="407.40" y="265.22" font-size="8.4" text-anchor="end" font-weight="normal" >0</text>
<text x="407.40" y="237.82" font-size="8.4" text-anchor="end" font-weight="normal" >0.4</text>
<text x="407.40" y="210.42" font-size="8.4" text-anchor="end" font-weight="normal" >0.8</text>
<text x="407.40" y="183.02" font-size="8.4" text-anchor="end" font-weight="normal" >1.2</text>
<line x1="430.10" y1="262.20" x2="430.10" y2="264.20" stroke="#000" stroke-width="0.9"/>
<line x1="447.40" y1="262.20" x2="447.40" y2="264.20" stroke="#000" stroke-width="0.9"/>
<line x1="464.70" y1="262.20" x2="464.70" y2="264.20" stroke="#000" stroke-width="0.9"/>
<line x1="482.50" y1="262.20" x2="482.50" y2="264.20" stroke="#000" stroke-width="0.9"/>
<text x="412.80" y="273.82" font-size="8.4" text-anchor="middle" font-weight="normal" >0</text>
<text x="432.70" y="273.82" font-size="8.4" text-anchor="middle" font-weight="normal" >0.1</text>
<text x="449.10" y="273.82" font-size="8.4" text-anchor="middle" font-weight="normal" >1</text>
<text x="468.70" y="273.82" font-size="8.4" text-anchor="middle" font-weight="normal" >10</text>
<text x="486.30" y="273.82" font-size="8.4" text-anchor="middle" font-weight="normal" >100</text>
<text x="457.80" y="288.92" font-size="8.4" text-anchor="middle" font-weight="normal" >Test substances (μg/ml)</text>
<polyline points="412.30,193.00 417.40,191.40 434.80,181.60 447.30,184.00 459.80,184.00 465.40,187.80 477.20,191.80" fill="none" stroke="#000" stroke-width="1.1" stroke-linejoin="round"/>
<circle cx="412.30" cy="193.00" r="1.9" fill="#000"/>
<circle cx="434.80" cy="181.60" r="1.9" fill="#000"/>
<circle cx="447.30" cy="184.00" r="1.9" fill="#000"/>
<line x1="459.80" y1="180.50" x2="459.80" y2="187.50" stroke="#000" stroke-width="0.8"/>
<line x1="458.60" y1="180.50" x2="461.00" y2="180.50" stroke="#000" stroke-width="0.8"/>
<line x1="458.60" y1="187.50" x2="461.00" y2="187.50" stroke="#000" stroke-width="0.8"/>
<circle cx="459.80" cy="184.00" r="1.9" fill="#000"/>
<line x1="465.40" y1="184.80" x2="465.40" y2="190.80" stroke="#000" stroke-width="0.8"/>
<line x1="464.20" y1="184.80" x2="466.60" y2="184.80" stroke="#000" stroke-width="0.8"/>
<line x1="464.20" y1="190.80" x2="466.60" y2="190.80" stroke="#000" stroke-width="0.8"/>
<circle cx="465.40" cy="187.80" r="1.9" fill="#000"/>
<circle cx="477.20" cy="191.80" r="1.9" fill="#000"/>
<circle cx="417.40" cy="191.40" r="1.3" fill="#000"/>
<line x1="412.3" y1="193.0" x2="414.6" y2="195.8" stroke="#000" stroke-width="1.1"/>
<line x1="416.3" y1="198.0" x2="418.0" y2="200.0" stroke="#000" stroke-width="1.8"/>
<polyline points="419.30,201.60 434.80,220.00 447.30,229.40 459.80,234.80 465.40,236.70 477.20,236.70" fill="none" stroke="#000" stroke-width="1.1" stroke-linejoin="round"/>
<circle cx="434.80" cy="220.00" r="1.9" fill="#000"/>
<circle cx="447.30" cy="229.40" r="1.9" fill="#000"/>
<circle cx="459.80" cy="234.80" r="1.9" fill="#000"/>
<circle cx="465.40" cy="236.70" r="1.9" fill="#000"/>
<circle cx="477.20" cy="236.70" r="1.9" fill="#000"/>
<circle cx="412.30" cy="193.00" r="2.1" fill="#000"/>
<line x1="449.10" y1="203.50" x2="458.10" y2="203.50" stroke="#000" stroke-width="1.1"/>
<circle cx="453.60" cy="203.50" r="1.8" fill="#000"/>
<text x="459.60" y="206.52" font-size="8.4" text-anchor="start" font-weight="normal" >Poly I:C</text>
<line x1="449.10" y1="213.60" x2="458.10" y2="213.60" stroke="#000" stroke-width="1.1"/>
<circle cx="453.60" cy="213.60" r="1.8" fill="#000"/>
<text x="459.60" y="216.62" font-size="8.4" text-anchor="start" font-weight="normal" >Poly dI:dC</text>
<text x="271.30" y="314.40" font-size="13.3" text-anchor="start" font-weight="bold" style="stroke-width:0.45px">E</text>
<line x1="309.20" y1="308.00" x2="309.20" y2="437.20" stroke="#000" stroke-width="1.1"/>
<line x1="309.20" y1="437.20" x2="394.00" y2="437.20" stroke="#000" stroke-width="1.1"/>
<line x1="307.20" y1="437.20" x2="309.20" y2="437.20" stroke="#000" stroke-width="0.9"/>
<line x1="307.20" y1="415.73" x2="309.20" y2="415.73" stroke="#000" stroke-width="0.9"/>
<line x1="307.20" y1="394.26" x2="309.20" y2="394.26" stroke="#000" stroke-width="0.9"/>
<line x1="307.20" y1="372.79" x2="309.20" y2="372.79" stroke="#000" stroke-width="0.9"/>
<line x1="307.20" y1="351.32" x2="309.20" y2="351.32" stroke="#000" stroke-width="0.9"/>
<line x1="307.20" y1="329.85" x2="309.20" y2="329.85" stroke="#000" stroke-width="0.9"/>
<line x1="307.20" y1="308.38" x2="309.20" y2="308.38" stroke="#000" stroke-width="0.9"/>
<text x="305.80" y="440.22" font-size="8.4" text-anchor="end" font-weight="normal" >0</text>
<text x="305.80" y="397.28" font-size="8.4" text-anchor="end" font-weight="normal" >200</text>
<text x="305.80" y="354.34" font-size="8.4" text-anchor="end" font-weight="normal" >400</text>
<text x="305.80" y="311.40" font-size="8.4" text-anchor="end" font-weight="normal" >600</text>
<line x1="309.60" y1="437.20" x2="309.60" y2="439.20" stroke="#000" stroke-width="0.9"/>
<text x="310.20" y="450.52" font-size="8.4" text-anchor="middle" font-weight="normal" >0</text>
<line x1="326.44" y1="437.20" x2="326.44" y2="439.20" stroke="#000" stroke-width="0.9"/>
<text x="327.04" y="450.52" font-size="8.4" text-anchor="middle" font-weight="normal" >2</text>
<line x1="343.28" y1="437.20" x2="343.28" y2="439.20" stroke="#000" stroke-width="0.9"/>
<text x="343.88" y="450.52" font-size="8.4" text-anchor="middle" font-weight="normal" >4</text>
<line x1="360.12" y1="437.20" x2="360.12" y2="439.20" stroke="#000" stroke-width="0.9"/>
<text x="360.72" y="450.52" font-size="8.4" text-anchor="middle" font-weight="normal" >6</text>
<line x1="376.96" y1="437.20" x2="376.96" y2="439.20" stroke="#000" stroke-width="0.9"/>
<text x="377.56" y="450.52" font-size="8.4" text-anchor="middle" font-weight="normal" >8</text>
<line x1="393.80" y1="437.20" x2="393.80" y2="439.20" stroke="#000" stroke-width="0.9"/>
<text x="394.40" y="450.52" font-size="8.4" text-anchor="middle" font-weight="normal" >10</text>
<text x="354.20" y="466.49" font-size="8.3" text-anchor="middle" font-weight="normal" >Stimulation time (h)</text>
<text transform="translate(279.2,374.8) rotate(-90)" font-size="8.4" text-anchor="middle">Clotting time (s)</text>
<polyline points="309.60,332.50 318.02,331.25 326.44,347.50 334.86,375.75 343.28,397.00 351.70,405.00 360.12,405.00 368.54,406.50 385.38,394.30" fill="none" stroke="#000" stroke-width="1.1" stroke-linejoin="round"/>
<circle cx="309.60" cy="332.50" r="2.4" fill="#000"/>
<circle cx="318.02" cy="331.25" r="2.4" fill="#000"/>
<line x1="326.44" y1="345.00" x2="326.44" y2="350.00" stroke="#000" stroke-width="0.8"/>
<line x1="325.24" y1="345.00" x2="327.64" y2="345.00" stroke="#000" stroke-width="0.8"/>
<line x1="325.24" y1="350.00" x2="327.64" y2="350.00" stroke="#000" stroke-width="0.8"/>
<circle cx="326.44" cy="347.50" r="2.4" fill="#000"/>
<circle cx="334.86" cy="375.75" r="2.4" fill="#000"/>
<circle cx="343.28" cy="397.00" r="2.4" fill="#000"/>
<line x1="351.70" y1="402.50" x2="351.70" y2="407.50" stroke="#000" stroke-width="0.8"/>
<line x1="350.50" y1="402.50" x2="352.90" y2="402.50" stroke="#000" stroke-width="0.8"/>
<line x1="350.50" y1="407.50" x2="352.90" y2="407.50" stroke="#000" stroke-width="0.8"/>
<circle cx="351.70" cy="405.00" r="2.4" fill="#000"/>
<line x1="360.12" y1="402.00" x2="360.12" y2="408.00" stroke="#000" stroke-width="0.8"/>
<line x1="358.92" y1="402.00" x2="361.32" y2="402.00" stroke="#000" stroke-width="0.8"/>
<line x1="358.92" y1="408.00" x2="361.32" y2="408.00" stroke="#000" stroke-width="0.8"/>
<circle cx="360.12" cy="405.00" r="2.4" fill="#000"/>
<line x1="368.54" y1="401.50" x2="368.54" y2="411.50" stroke="#000" stroke-width="0.8"/>
<line x1="367.34" y1="401.50" x2="369.74" y2="401.50" stroke="#000" stroke-width="0.8"/>
<line x1="367.34" y1="411.50" x2="369.74" y2="411.50" stroke="#000" stroke-width="0.8"/>
<circle cx="368.54" cy="406.50" r="2.4" fill="#000"/>
<circle cx="385.38" cy="394.30" r="2.4" fill="#000"/>
<polyline points="309.60,333.75 318.02,337.00 326.44,386.25 334.86,401.25 343.28,413.75 351.70,417.00 360.12,418.00 368.54,417.00 385.38,414.50" fill="none" stroke="#000" stroke-width="1.1" stroke-linejoin="round"/>
<path d="M309.60 330.63 L312.60 336.03 L306.60 336.03 Z" fill="#000"/>
<path d="M318.02 333.88 L321.02 339.28 L315.02 339.28 Z" fill="#000"/>
<path d="M326.44 383.13 L329.44 388.53 L323.44 388.53 Z" fill="#000"/>
<path d="M334.86 398.13 L337.86 403.53 L331.86 403.53 Z" fill="#000"/>
<path d="M343.28 410.63 L346.28 416.03 L340.28 416.03 Z" fill="#000"/>
<path d="M351.70 413.88 L354.70 419.28 L348.70 419.28 Z" fill="#000"/>
<path d="M360.12 414.88 L363.12 420.28 L357.12 420.28 Z" fill="#000"/>
<line x1="368.54" y1="415.00" x2="368.54" y2="419.00" stroke="#000" stroke-width="0.8"/>
<line x1="367.34" y1="415.00" x2="369.74" y2="415.00" stroke="#000" stroke-width="0.8"/>
<line x1="367.34" y1="419.00" x2="369.74" y2="419.00" stroke="#000" stroke-width="0.8"/>
<path d="M368.54 413.88 L371.54 419.28 L365.54 419.28 Z" fill="#000"/>
<path d="M385.38 411.38 L388.38 416.78 L382.38 416.78 Z" fill="#000"/>
<line x1="345.30" y1="312.80" x2="356.30" y2="312.80" stroke="#000" stroke-width="1.1"/>
<circle cx="350.80" cy="312.80" r="2.2" fill="#000"/>
<text x="359.10" y="315.82" font-size="8.4" text-anchor="start" font-weight="normal" >Poly I:C</text>
<line x1="345.30" y1="330.00" x2="356.30" y2="330.00" stroke="#000" stroke-width="1.1"/>
<path d="M350.80 327.27 L353.43 332.00 L348.18 332.00 Z" fill="#000"/>
<text x="359.10" y="333.02" font-size="8.4" text-anchor="start" font-weight="normal" >TNFa</text>
<line x1="419.80" y1="308.00" x2="419.80" y2="437.50" stroke="#000" stroke-width="1.1"/>
<line x1="419.80" y1="437.50" x2="424.50" y2="437.50" stroke="#000" stroke-width="1.1"/>
<line x1="428.00" y1="437.50" x2="510.20" y2="437.50" stroke="#000" stroke-width="1.1"/>
<path d="M424.5 439.3 L426.5 435.7 M427 439.3 L429 435.7" stroke="#000" stroke-width="0.9"/>
<line x1="417.80" y1="437.50" x2="419.80" y2="437.50" stroke="#000" stroke-width="0.9"/>
<line x1="417.80" y1="421.33" x2="419.80" y2="421.33" stroke="#000" stroke-width="0.9"/>
<line x1="417.80" y1="405.16" x2="419.80" y2="405.16" stroke="#000" stroke-width="0.9"/>
<line x1="417.80" y1="388.99" x2="419.80" y2="388.99" stroke="#000" stroke-width="0.9"/>
<line x1="417.80" y1="372.82" x2="419.80" y2="372.82" stroke="#000" stroke-width="0.9"/>
<line x1="417.80" y1="356.65" x2="419.80" y2="356.65" stroke="#000" stroke-width="0.9"/>
<line x1="417.80" y1="340.48" x2="419.80" y2="340.48" stroke="#000" stroke-width="0.9"/>
<line x1="417.80" y1="324.31" x2="419.80" y2="324.31" stroke="#000" stroke-width="0.9"/>
<line x1="417.80" y1="308.14" x2="419.80" y2="308.14" stroke="#000" stroke-width="0.9"/>
<text x="414.00" y="440.52" font-size="8.4" text-anchor="end" font-weight="normal" >0</text>
<text x="414.00" y="408.18" font-size="8.4" text-anchor="end" font-weight="normal" >200</text>
<text x="414.00" y="375.84" font-size="8.4" text-anchor="end" font-weight="normal" >400</text>
<text x="414.00" y="343.50" font-size="8.4" text-anchor="end" font-weight="normal" >600</text>
<text x="414.00" y="311.16" font-size="8.4" text-anchor="end" font-weight="normal" >800</text>
<line x1="442.00" y1="437.50" x2="442.00" y2="439.50" stroke="#000" stroke-width="0.9"/>
<line x1="464.50" y1="437.50" x2="464.50" y2="439.50" stroke="#000" stroke-width="0.9"/>
<line x1="487.00" y1="437.50" x2="487.00" y2="439.50" stroke="#000" stroke-width="0.9"/>
<line x1="509.50" y1="437.50" x2="509.50" y2="439.50" stroke="#000" stroke-width="0.9"/>
<text x="420.50" y="451.02" font-size="8.4" text-anchor="middle" font-weight="normal" >0</text>
<text x="445.20" y="451.02" font-size="8.4" text-anchor="middle" font-weight="normal" >0.1</text>
<text x="466.30" y="451.02" font-size="8.4" text-anchor="middle" font-weight="normal" >1</text>
<text x="489.50" y="451.02" font-size="8.4" text-anchor="middle" font-weight="normal" >10</text>
<text x="513.30" y="451.02" font-size="8.4" text-anchor="middle" font-weight="normal" >100</text>
<text x="472.80" y="466.32" font-size="8.4" text-anchor="middle" font-weight="normal" >Test substances (μg/ml)</text>
<polyline points="419.80,335.40 425.00,336.20" fill="none" stroke="#000" stroke-width="1.1" stroke-linejoin="round"/>
<polyline points="419.80,335.40 425.00,337.50" fill="none" stroke="#000" stroke-width="1.1" stroke-linejoin="round"/>
<path d="M424.3 340.2 L427.3 333.2 M426.3 340.8 L429.3 333.8" stroke="#000" stroke-width="1.0" fill="none"/>
<circle cx="419.80" cy="335.40" r="2.4" fill="#000"/>
<polyline points="428.80,335.30 449.00,334.50 465.30,330.30 481.30,340.50 487.80,337.10 503.90,332.70" fill="none" stroke="#000" stroke-width="1.1" stroke-linejoin="round"/>
<line x1="449.00" y1="332.50" x2="449.00" y2="336.50" stroke="#000" stroke-width="0.8"/>
<line x1="447.80" y1="332.50" x2="450.20" y2="332.50" stroke="#000" stroke-width="0.8"/>
<line x1="447.80" y1="336.50" x2="450.20" y2="336.50" stroke="#000" stroke-width="0.8"/>
<rect x="446.80" y="332.30" width="4.40" height="4.40" fill="#000"/>
<rect x="463.10" y="328.10" width="4.40" height="4.40" fill="#000"/>
<rect x="479.10" y="338.30" width="4.40" height="4.40" fill="#000"/>
<line x1="487.80" y1="333.60" x2="487.80" y2="340.60" stroke="#000" stroke-width="0.8"/>
<line x1="486.60" y1="333.60" x2="489.00" y2="333.60" stroke="#000" stroke-width="0.8"/>
<line x1="486.60" y1="340.60" x2="489.00" y2="340.60" stroke="#000" stroke-width="0.8"/>
<rect x="485.60" y="334.90" width="4.40" height="4.40" fill="#000"/>
<rect x="501.70" y="330.50" width="4.40" height="4.40" fill="#000"/>
<polyline points="428.80,339.50 449.00,348.20 465.30,359.80 481.25,395.50 488.00,400.00 503.75,408.00" fill="none" stroke="#000" stroke-width="1.1" stroke-linejoin="round"/>
<line x1="449.00" y1="346.20" x2="449.00" y2="350.20" stroke="#000" stroke-width="0.8"/>
<line x1="447.80" y1="346.20" x2="450.20" y2="346.20" stroke="#000" stroke-width="0.8"/>
<line x1="447.80" y1="350.20" x2="450.20" y2="350.20" stroke="#000" stroke-width="0.8"/>
<circle cx="449.00" cy="348.20" r="2.4" fill="#000"/>
<line x1="465.30" y1="357.30" x2="465.30" y2="362.30" stroke="#000" stroke-width="0.8"/>
<line x1="464.10" y1="357.30" x2="466.50" y2="357.30" stroke="#000" stroke-width="0.8"/>
<line x1="464.10" y1="362.30" x2="466.50" y2="362.30" stroke="#000" stroke-width="0.8"/>
<circle cx="465.30" cy="359.80" r="2.4" fill="#000"/>
<circle cx="481.25" cy="395.50" r="2.4" fill="#000"/>
<line x1="488.00" y1="396.00" x2="488.00" y2="404.00" stroke="#000" stroke-width="0.8"/>
<line x1="486.80" y1="396.00" x2="489.20" y2="396.00" stroke="#000" stroke-width="0.8"/>
<line x1="486.80" y1="404.00" x2="489.20" y2="404.00" stroke="#000" stroke-width="0.8"/>
<circle cx="488.00" cy="400.00" r="2.4" fill="#000"/>
<circle cx="503.75" cy="408.00" r="2.4" fill="#000"/>
<line x1="429.80" y1="407.50" x2="438.80" y2="407.50" stroke="#000" stroke-width="1.1"/>
<circle cx="434.30" cy="407.50" r="2.2" fill="#000"/>
<text x="440.30" y="410.52" font-size="8.4" text-anchor="start" font-weight="normal" >Poly I:C</text>
<line x1="429.80" y1="420.80" x2="438.80" y2="420.80" stroke="#000" stroke-width="1.1"/>
<rect x="432.30" y="418.80" width="4.00" height="4.00" fill="#000"/>
<text x="440.30" y="423.82" font-size="8.4" text-anchor="start" font-weight="normal" >Poly dI:dC</text>
</svg>
</body></html>
